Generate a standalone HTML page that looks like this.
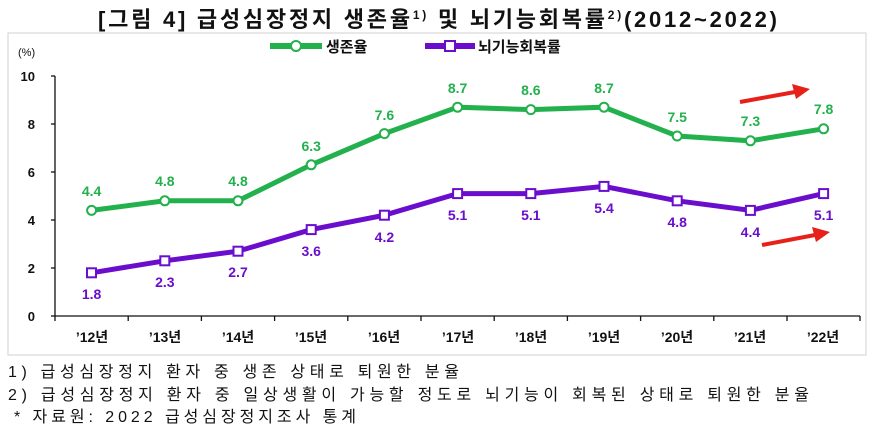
<!DOCTYPE html>
<html><head><meta charset="utf-8"><style>
body{margin:0;background:#fff;width:884px;height:435px;overflow:hidden;font-family:"Liberation Sans","Noto Sans CJK KR",sans-serif}
</style></head><body>
<svg width="884" height="435" xmlns="http://www.w3.org/2000/svg" font-family="'Liberation Sans','Noto Sans CJK KR',sans-serif">
<text x="98" y="27" font-size="22" font-weight="bold" fill="#111" textLength="679" lengthAdjust="spacing">[그림 4] 급성심장정지 생존율<tspan font-size="12" dy="-8">1)</tspan><tspan dy="8"> 및 뇌기능회복률</tspan><tspan font-size="12" dy="-8">2)</tspan><tspan dy="8">(2012~2022)</tspan></text>
<rect x="8" y="33" width="858" height="322" fill="none" stroke="#d0d0d0"/>
<line x1="270" y1="46" x2="322" y2="46" stroke="#22b14c" stroke-width="6"/><circle cx="296" cy="46" r="5" fill="#fff" stroke="#22b14c" stroke-width="2"/>
<text x="326" y="52" font-size="15" font-weight="bold" fill="#111">생존율</text>
<line x1="425" y1="46" x2="475" y2="46" stroke="#6a0dcc" stroke-width="6"/><rect x="445" y="41" width="10" height="10" fill="#fff" stroke="#6a0dcc" stroke-width="2"/>
<text x="478" y="52" font-size="15" font-weight="bold" fill="#111">뇌기능회복률</text>
<text x="18" y="56" font-size="11" fill="#111">(%)</text>
<g font-size="13" font-weight="bold" fill="#111" text-anchor="end">
<text x="35" y="81">10</text><text x="35" y="129">8</text><text x="35" y="177">6</text><text x="35" y="225">4</text><text x="35" y="273">2</text><text x="35" y="321">0</text></g>
<g stroke="#111" stroke-width="1.3">
<line x1="55" y1="76" x2="55" y2="316"/><line x1="55" y1="316" x2="860" y2="316"/>
<line x1="51" y1="76" x2="55" y2="76"/><line x1="51" y1="124" x2="55" y2="124"/><line x1="51" y1="172" x2="55" y2="172"/><line x1="51" y1="220" x2="55" y2="220"/><line x1="51" y1="268" x2="55" y2="268"/><line x1="51" y1="316" x2="55" y2="316"/>
<path d="M55 316v5M128.2 316v5M201.4 316v5M274.6 316v5M347.8 316v5M421 316v5M494.2 316v5M567.4 316v5M640.6 316v5M713.8 316v5M787 316v5M860 316v5"/>
</g>
<g font-size="14" font-weight="bold" fill="#111" text-anchor="middle">
<text x="92" y="342">’12년</text><text x="165" y="342">’13년</text><text x="238" y="342">’14년</text><text x="311" y="342">’15년</text><text x="384" y="342">’16년</text><text x="458" y="342">’17년</text><text x="531" y="342">’18년</text><text x="604" y="342">’19년</text><text x="677" y="342">’20년</text><text x="750" y="342">’21년</text><text x="823" y="342">’22년</text></g>
<polyline fill="none" stroke="#22b14c" stroke-width="5" points="91.6,210.4 164.8,200.8 238,200.8 311.2,164.8 384.4,133.6 457.6,107.2 530.8,109.6 604,107.2 677.2,136 750.4,140.8 823.6,128.8"/>
<g fill="#fff" stroke="#22b14c" stroke-width="2">
<circle cx="91.6" cy="210.4" r="4.5"/><circle cx="164.8" cy="200.8" r="4.5"/><circle cx="238" cy="200.8" r="4.5"/><circle cx="311.2" cy="164.8" r="4.5"/><circle cx="384.4" cy="133.6" r="4.5"/><circle cx="457.6" cy="107.2" r="4.5"/><circle cx="530.8" cy="109.6" r="4.5"/><circle cx="604" cy="107.2" r="4.5"/><circle cx="677.2" cy="136" r="4.5"/><circle cx="750.4" cy="140.8" r="4.5"/><circle cx="823.6" cy="128.8" r="4.5"/></g>
<polyline fill="none" stroke="#6a0dcc" stroke-width="5" points="91.6,272.8 164.8,260.8 238,251.2 311.2,229.6 384.4,215.2 457.6,193.6 530.8,193.6 604,186.4 677.2,200.8 750.4,210.4 823.6,193.6"/>
<g fill="#fff" stroke="#6a0dcc" stroke-width="2">
<rect x="87" y="268.3" width="9" height="9"/><rect x="160.3" y="256.3" width="9" height="9"/><rect x="233.5" y="246.7" width="9" height="9"/><rect x="306.7" y="225.1" width="9" height="9"/><rect x="379.9" y="210.7" width="9" height="9"/><rect x="453.1" y="189.1" width="9" height="9"/><rect x="526.3" y="189.1" width="9" height="9"/><rect x="599.5" y="181.9" width="9" height="9"/><rect x="672.7" y="196.3" width="9" height="9"/><rect x="745.9" y="205.9" width="9" height="9"/><rect x="819.1" y="189.1" width="9" height="9"/></g>
<g font-size="14" font-weight="bold" fill="#22b14c" text-anchor="middle">
<text x="91.6" y="196">4.4</text><text x="164.8" y="186">4.8</text><text x="238" y="186">4.8</text><text x="311.2" y="151">6.3</text><text x="384.4" y="120">7.6</text><text x="457.6" y="93">8.7</text><text x="530.8" y="95">8.6</text><text x="604" y="93">8.7</text><text x="677.2" y="122">7.5</text><text x="750.4" y="126">7.3</text><text x="823.6" y="114">7.8</text></g>
<g font-size="14" font-weight="bold" fill="#6a0dcc" text-anchor="middle">
<text x="91.6" y="299">1.8</text><text x="164.8" y="287">2.3</text><text x="238" y="277">2.7</text><text x="311.2" y="256">3.6</text><text x="384.4" y="242">4.2</text><text x="457.6" y="220">5.1</text><text x="530.8" y="220">5.1</text><text x="604" y="213">5.4</text><text x="677.2" y="227">4.8</text><text x="750.4" y="237">4.4</text><text x="823.6" y="220">5.1</text></g>
<g fill="#e8201a" stroke="#e8201a">
<line x1="740" y1="102" x2="795" y2="92" stroke-width="4"/><polygon points="810,89 792,84 796,99" stroke="none"/>
<line x1="762" y1="245" x2="815" y2="235" stroke-width="4"/><polygon points="830,232 812,227 816,242" stroke="none"/></g>
<g font-size="16" fill="#111" letter-spacing="4">
<text x="8" y="377" textLength="455" lengthAdjust="spacing">1) 급성심장정지 환자 중 생존 상태로 퇴원한 분율</text>
<text x="8" y="400" textLength="805" lengthAdjust="spacing">2) 급성심장정지 환자 중 일상생활이 가능할 정도로 뇌기능이 회복된 상태로 퇴원한 분율</text>
<text x="14" y="422" textLength="346" lengthAdjust="spacing">* 자료원: 2022 급성심장정지조사 통계</text></g>
</svg>
</body></html>
